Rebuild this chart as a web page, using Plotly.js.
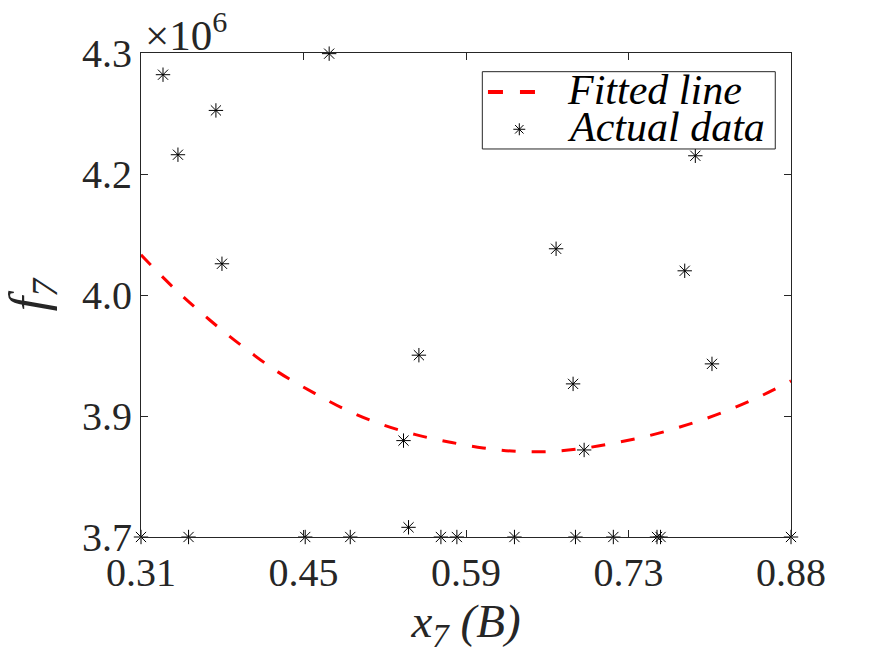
<!DOCTYPE html>
<html>
<head>
<meta charset="utf-8">
<script src="https://cdn.plot.ly/plotly-3.0.1.min.js"></script>
<style>
  body { margin: 0; background: #fff; }
  #chart { width: 875px; height: 656px; }
</style>
</head>
<body>
<div id="chart"></div>
<script>
// Actual data (x7, f7 in units of 1e6)
var actualX = [0.3293, 0.3757, 0.3424, 0.475, 0.381, 0.7961, 0.674, 0.7868, 0.5537, 0.5402,
  0.5446, 0.6889, 0.8107, 0.6986,
  0.31, 0.3517, 0.454, 0.4935, 0.573, 0.587, 0.6375, 0.691, 0.7242, 0.7625, 0.7656, 0.88];
var actualY = [4.2731, 4.2288, 4.1739, 4.2992, 4.0387, 4.1726, 4.0573, 4.03, 3.9254, 3.8195,
  3.712, 3.8898, 3.9146, 3.8079,
  3.7, 3.7, 3.7, 3.7, 3.7, 3.7, 3.7, 3.7, 3.7, 3.7, 3.7, 3.7];

// Fitted line
var fitX = [0.31, 0.34, 0.37, 0.40, 0.43, 0.46, 0.49, 0.52, 0.55, 0.58,
  0.61, 0.64, 0.67, 0.70, 0.73, 0.76, 0.79, 0.82, 0.85, 0.88];
var fitY = [4.0498, 4.007, 3.9693, 3.9353, 3.9047, 3.8799, 3.8575, 3.8402, 3.8272, 3.8178,
  3.8104, 3.8061, 3.8061, 3.8104, 3.8178, 3.8272, 3.8396, 3.8544, 3.8724, 3.8935];

// Tick positions and their printed labels
var xTickVals = [0.31, 0.4525, 0.595, 0.7375, 0.88];
var xTickText = ['0.31', '0.45', '0.59', '0.73', '0.88'];
var yTickVals = [3.7, 3.85, 4.0, 4.15, 4.3];
var yTickText = ['3.7', '3.9', '4.0', '4.2', '4.3'];

// Legend entries
var legendNames = ['Fitted line', 'Actual data'];

var axisColor = '#262626';
var fontFamily = '"Liberation Serif", "Times New Roman", serif';

var fitTrace = {
  x: fitX,
  y: fitY,
  name: legendNames[0],
  mode: 'lines',
  type: 'scatter',
  line: { color: '#ff0000', width: 3, dash: '14px,16px', shape: 'spline' },
};

var actualTrace = {
  x: actualX,
  y: actualY,
  name: legendNames[1],
  mode: 'markers',
  type: 'scatter',
  cliponaxis: false,
  marker: { symbol: 'asterisk-open', size: 12, color: '#000000', line: { color: '#000000', width: 1 } },
};

/*
  Legend box drawn by hand (paper coords) so the rows sit as tight as in the reference
*/
var box = { x0: 0.5251, x1: 0.9758, y0: 0.8017, y1: 0.9614 };
var row1 = 0.9194;
var row2 = 0.8424;
var starX = 0.582;
var sx = 0.0092, sy = 0.0124, dx = 0.0065, dy = 0.0088;

var legendShapes = [
  {
    type: 'rect', xref: 'paper', yref: 'paper',
    x0: box.x0, x1: box.x1, y0: box.y0, y1: box.y1,
    line: { color: axisColor, width: 1 }, fillcolor: '#ffffff', layer: 'above',
  },
  {
    type: 'line', xref: 'paper', yref: 'paper',
    x0: 0.5338, x1: 0.6077, y0: row1, y1: row1,
    line: { color: '#ff0000', width: 4, dash: '15px,17px' }, layer: 'above',
  },
  {
    type: 'path', xref: 'paper', yref: 'paper', layer: 'above',
    path: 'M' + (starX - sx) + ',' + row2 + 'L' + (starX + sx) + ',' + row2 +
      'M' + starX + ',' + (row2 - sy) + 'L' + starX + ',' + (row2 + sy) +
      'M' + (starX - dx) + ',' + (row2 - dy) + 'L' + (starX + dx) + ',' + (row2 + dy) +
      'M' + (starX - dx) + ',' + (row2 + dy) + 'L' + (starX + dx) + ',' + (row2 - dy),
    line: { color: '#000000', width: 1 },
  },
];

var legendText = [row1, row2].map((yy, i) => ({
  text: '<i>' + legendNames[i] + '</i>',
  xref: 'paper', yref: 'paper',
  x: 0.652, y: yy + 0.004,
  xanchor: 'left', yanchor: 'middle',
  showarrow: false,
  font: { family: fontFamily, size: 42, color: '#000000' },
}));

var layout = {
  width: 875,
  height: 656,
  margin: { l: 141, r: 84, t: 53, b: 119, pad: 0 },
  paper_bgcolor: '#ffffff',
  plot_bgcolor: '#ffffff',
  font: { family: fontFamily, size: 40, color: axisColor },
  showlegend: false,
  xaxis: {
    range: [0.31, 0.88],
    tickvals: xTickVals,
    ticktext: xTickText,
    ticks: 'inside',
    ticklen: 7,
    tickcolor: axisColor,
    showline: true,
    linecolor: axisColor,
    linewidth: 1,
    mirror: 'allticks',
    showgrid: false,
    zeroline: false,
    tickfont: { size: 40 },
    title: { text: '<i>x<sub>7</sub> (B)</i>', font: { size: 47 }, standoff: 2 },
  },
  yaxis: {
    range: [3.7, 4.3],
    tickvals: yTickVals,
    ticktext: yTickText,
    ticks: 'inside',
    ticklen: 7,
    tickcolor: axisColor,
    showline: true,
    linecolor: axisColor,
    linewidth: 1,
    mirror: 'allticks',
    showgrid: false,
    zeroline: false,
    tickfont: { size: 40 },
    title: { text: '<i>f<sub>7</sub></i>', font: { size: 52 }, standoff: 20 },
  },
  shapes: legendShapes,
  annotations: [
    {
      text: '×10<sup>6</sup>',
      xref: 'paper',
      yref: 'paper',
      x: 0,
      y: 1,
      xanchor: 'left',
      yanchor: 'bottom',
      xshift: 2,
      yshift: -8,
      showarrow: false,
      font: { family: fontFamily, size: 43, color: axisColor },
    },
  ].concat(legendText),
};

var config = { responsive: false, displayModeBar: false, staticPlot: true };

Plotly.newPlot('chart', [fitTrace, actualTrace], layout, config);
</script>
</body>
</html>
